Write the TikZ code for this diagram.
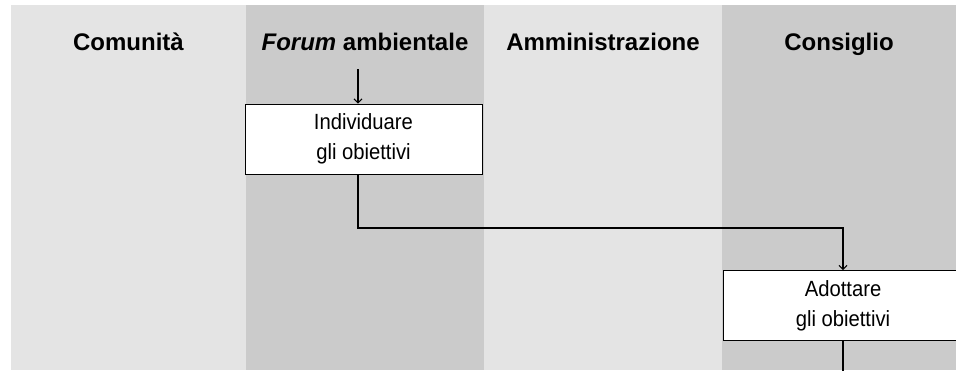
\documentclass[tikz,border=0pt]{standalone}
\usepackage{fontspec}
\setmainfont{Liberation Sans}
\newfontfamily\stepfont[FakeStretch=0.92]{Liberation Sans}
\usetikzlibrary{arrows.meta}
\definecolor{lanelight}{HTML}{E4E4E4}
\definecolor{lanedark}{HTML}{CBCBCB}
\begin{document}
\begin{tikzpicture}[
    x=1pt, y=-1pt,
    lanehead/.style={font=\fontsize{24}{26}\selectfont\bfseries, anchor=base},
    stepbox/.style={draw=black, line width=0.9pt, fill=white, minimum height=70pt,
      align=center, inner sep=0pt, font=\stepfont\fontsize{22}{30}\selectfont,
      execute at begin node=\rule{0pt}{26pt}},
    flow/.style={line width=1.6pt, -{Straight Barb[length=4pt,width=8pt,line width=1pt]}}
  ]
    \useasboundingbox (0,0) rectangle (956,370);
    % corsie
    \fill[lanelight] (11,5) rectangle (246,370);
    \fill[lanedark] (246,5) rectangle (484,370);
    \fill[lanelight] (484,5) rectangle (722,370);
    \fill[lanedark] (722,5) rectangle (956,370);
    \node[lanehead] (comunita) at (128.5,50) {Comunità};
    \node[lanehead] (forum) at (365,50) {\textit{Forum} ambientale};
    \node[lanehead] (amministrazione) at (603,50) {Amministrazione};
    \node[lanehead] (consiglio) at (839,50) {Consiglio};
    % passi
    \node[stepbox, minimum width=237pt] (individuare) at (363.5,139) {Individuare\\gli obiettivi};
    \node[stepbox, minimum width=240pt] (adottare) at (843,305.5) {Adottare\\gli obiettivi};
    \coordinate (inizio) at (358,69);
    \coordinate (fine) at (843,372);
    \draw[flow] (inizio) -- (inizio |- individuare.north);
    \draw[flow] ([xshift=-5.5pt]individuare.south) -- ++(0,53.5) -| (adottare.north);
    \draw[line width=1.6pt] (adottare.south) -- (fine);
  \end{tikzpicture}
\end{document}
